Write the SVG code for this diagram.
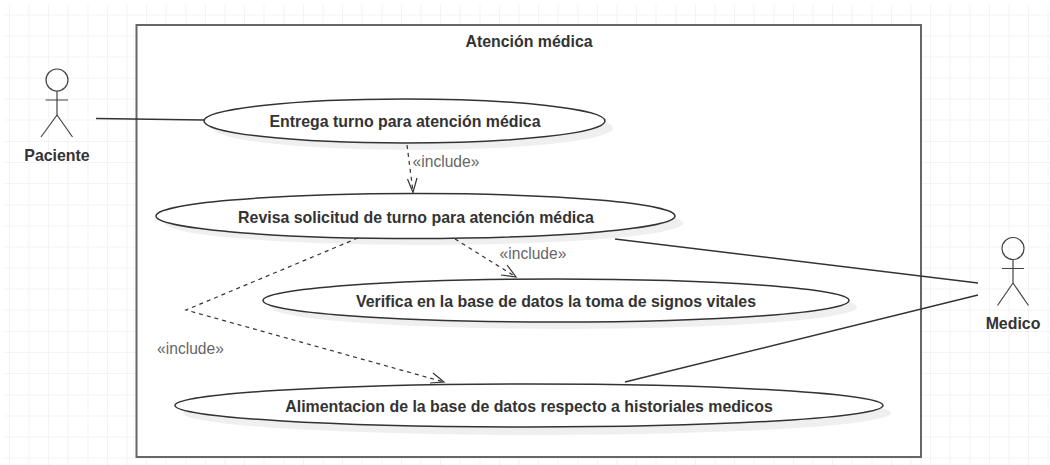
<svg xmlns="http://www.w3.org/2000/svg" width="1050" height="465" viewBox="0 0 1050 465">
<style>
.grid{stroke:#f3f3f3;stroke-width:1;fill:none}
.frame{fill:#fff;stroke:#666;stroke-width:2}
.uc{fill:#fff;stroke:#333;stroke-width:1.5}
.sh{fill:#efefef;stroke:none}
.t{font-family:"Liberation Sans",Arial,sans-serif;font-size:15.9px;font-weight:bold;fill:#333;text-anchor:middle}
.inc{font-family:"Liberation Sans",Arial,sans-serif;font-size:15.6px;fill:#666;text-anchor:middle}
.solid{fill:none;stroke:#333;stroke-width:1.5}
.dash{fill:none;stroke:#333;stroke-width:1.2;stroke-dasharray:4 4}
.head{fill:none;stroke:#333;stroke-width:1.2}
.actor{fill:none;stroke:#444;stroke-width:1.2}
</style>
<rect width="1050" height="465" fill="#fff"/>
<path class="grid" d="M9.500 5V465M29 5V465M48.500 5V465M68 5V465M88 5V465M107.500 5V465M127 5V465M146.500 5V465M166 5V465M186 5V465M205.500 5V465M225 5V465M244.500 5V465M264 5V465M284 5V465M303.500 5V465M323 5V465M342.500 5V465M362 5V465M382 5V465M401.500 5V465M421 5V465M440.500 5V465M460 5V465M480 5V465M499.500 5V465M519 5V465M538.500 5V465M558 5V465M578 5V465M597.500 5V465M617 5V465M636.500 5V465M656 5V465M676 5V465M695.500 5V465M715 5V465M734.500 5V465M754 5V465M774 5V465M793.500 5V465M813 5V465M832.500 5V465M852 5V465M872 5V465M891.500 5V465M911 5V465M930.500 5V465M950 5V465M970 5V465M989.500 5V465M1009 5V465M1028.500 5V465M1048 5V465"/>
<path class="grid" d="M5 15H1050M5 36H1050M5 57H1050M5 78H1050M5 99H1050M5 120H1050M5 141.500H1050M5 162.500H1050M5 183.500H1050M5 205H1050M5 226H1050M5 247H1050M5 268H1050M5 289H1050M5 310H1050M5 331.500H1050M5 352.500H1050M5 373.500H1050M5 395H1050M5 416H1050M5 437H1050M5 458H1050"/>
<g id="system">
<rect class="frame" x="136.500" y="25" width="784.500" height="432"/>
<text class="t" x="529" y="47">Atención médica</text>
</g>
<g id="uc1">
<ellipse class="sh" cx="413" cy="128" rx="200" ry="22"/>
<ellipse class="uc" cx="404.500" cy="121" rx="200.500" ry="22"/>
<text class="t" x="405" y="127">Entrega turno para atención médica</text>
</g>
<g id="uc2">
<ellipse class="sh" cx="424" cy="223" rx="259" ry="22"/>
<ellipse class="uc" cx="415.500" cy="216" rx="259.500" ry="22.500"/>
<text class="t" x="416" y="222.500">Revisa solicitud de turno para atención médica</text>
</g>
<g id="uc3">
<ellipse class="sh" cx="564" cy="307" rx="293" ry="22"/>
<ellipse class="uc" cx="556" cy="300.500" rx="293" ry="21.500"/>
<text class="t" x="556" y="307">Verifica en la base de datos la toma de signos vitales</text>
</g>
<g id="uc4">
<ellipse class="sh" cx="537" cy="413" rx="354" ry="22"/>
<ellipse class="uc" cx="529" cy="405.500" rx="354" ry="21.500"/>
<text class="t" x="529" y="412">Alimentacion de la base de datos respecto a historiales medicos</text>
</g>
<g id="paciente">
<circle class="actor" cx="57" cy="80" r="11"/>
<path class="actor" d="M57 91V115M45.500 100H68M57 115L41 137M57 115L72.500 137"/>
<text class="t" x="57" y="161">Paciente</text>
</g>
<g id="medico">
<circle class="actor" cx="1013" cy="248.500" r="11"/>
<path class="actor" d="M1013 260V283M1002 268.500H1024M1013 283L997.500 305.500M1013 283L1028.500 305.500"/>
<text class="t" x="1013" y="329">Medico</text>
</g>
<g id="connectors">
<path class="solid" d="M96 118.500L204 120"/>
<path class="dash" d="M407 145L413 192"/>
<path class="head" d="M407.500 179L413 192.500L417 178"/>
<path class="dash" d="M455 239L516 277"/>
<path class="head" d="M507 265L516 277L501 275"/>
<path class="dash" d="M358 238L186 310L444 382"/>
<path class="head" d="M433 373L444 382L430 383"/>
<path class="solid" d="M615 239L978 283M625 382L978 295"/>
<text class="inc" x="446" y="167">«include»</text>
<text class="inc" x="533" y="259">«include»</text>
<text class="inc" x="190.500" y="354">«include»</text>
</g>
</svg>
